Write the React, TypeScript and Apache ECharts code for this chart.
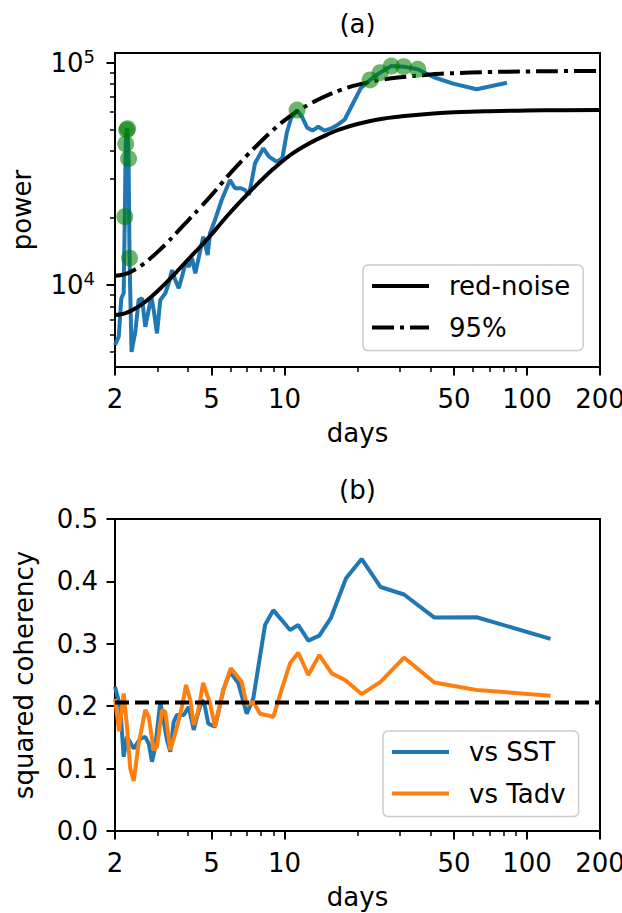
import React, { useEffect, useRef } from 'react';
import * as echarts from 'echarts';

const FONT = 'DejaVu Sans';
const FS = 26;

// ---------- Panel (a): power spectrum ----------
const specDays = [2.0, 2.072, 2.123, 2.172, 2.195, 2.214, 2.234, 2.254, 2.275, 2.296, 2.34, 2.426, 2.503, 2.584, 2.667, 2.823, 2.888, 2.98, 3.075, 3.225, 3.331, 3.437, 3.545, 3.663, 3.777, 3.9, 4.028, 4.155, 4.287, 4.453, 4.624, 4.822, 4.929, 5.169, 5.508, 5.96, 6.25, 6.616, 6.872, 7.139, 7.558, 8.177, 8.631, 9.289, 9.796, 10.21, 10.64, 11.27, 11.81, 12.4, 13.05, 13.78, 14.59, 15.5, 16.53, 17.71, 19.08, 20.67, 22.55, 24.8, 27.56, 31.0, 35.43, 41.33, 49.6, 62.0, 82.67];
const specPower = [5370, 5850, 8710, 9180, 20300, 43100, 49800, 50500, 37000, 13200, 5000, 6170, 8560, 8710, 6490, 8860, 7720, 6060, 8560, 9180, 10180, 11680, 10530, 9660, 10900, 12520, 12090, 13190, 11290, 13650, 16490, 13650, 17080, 19610, 24120, 29680, 27230, 27230, 26750, 25400, 35280, 41200, 37770, 35860, 37150, 48130, 56230, 61200, 57000, 51000, 49500, 51500, 49500, 50500, 52500, 55500, 65000, 77000, 83600, 90200, 96600, 96000, 93400, 86000, 80500, 75900, 81300];

const sigDays = [2.195, 2.214, 2.234, 2.254, 2.275, 2.296, 11.27, 22.55, 24.8, 27.56, 31.0, 35.43];
const sigPower = [20300, 43100, 49800, 50500, 37000, 13200, 61200, 83600, 90200, 96600, 96000, 93400];

const redDays = [2, 2.2, 2.4, 2.6, 2.8, 3, 3.3, 3.6, 4, 4.5, 5, 5.5, 6, 7, 8, 9, 10, 11, 12, 13.5, 15, 17, 20, 25, 30, 40, 50, 70, 100, 140, 200];
const redPower = [7330, 7460, 7790, 8240, 8790, 9400, 10400, 11500, 13000, 14900, 16900, 19100, 21300, 25500, 29500, 33300, 36700, 39600, 42000, 45000, 47500, 50200, 53000, 55800, 57300, 59000, 59800, 60500, 60900, 61100, 61200];
const conf95Power = [10995, 11190, 11685, 12360, 13185, 14100, 15600, 17250, 19500, 22350, 25350, 28650, 31950, 38250, 44250, 49950, 55050, 59400, 63000, 67500, 71250, 75300, 79500, 83700, 85950, 88500, 89700, 90750, 91350, 91650, 91800];

// ---------- Panel (b): squared coherency ----------
const sstDays = [2.0, 2.102, 2.172, 2.241, 2.389, 2.543, 2.667, 2.755, 2.842, 2.932, 3.075, 3.277, 3.381, 3.492, 3.603, 3.842, 4.028, 4.223, 4.357, 4.569, 4.669, 4.85, 5.169, 5.594, 5.96, 6.45, 6.985, 7.436, 8.311, 8.992, 9.74, 10.54, 11.4, 12.54, 13.92, 15.51, 17.94, 20.8, 24.9, 31.1, 41.5, 62, 125];
const sstCoh = [0.231, 0.199, 0.119, 0.151, 0.132, 0.148, 0.151, 0.14, 0.111, 0.135, 0.207, 0.146, 0.127, 0.175, 0.186, 0.186, 0.199, 0.162, 0.183, 0.21, 0.2045, 0.172, 0.167, 0.226, 0.255, 0.237, 0.188, 0.2125, 0.33, 0.354, 0.338, 0.322, 0.33, 0.305, 0.313, 0.341, 0.405, 0.436, 0.391, 0.379, 0.342, 0.3425, 0.308];

const tadvDays = [2.0, 2.08, 2.172, 2.241, 2.312, 2.389, 2.503, 2.584, 2.667, 2.755, 2.888, 2.98, 3.125, 3.225, 3.381, 3.492, 3.603, 3.777, 3.926, 4.087, 4.223, 4.399, 4.62, 4.929, 5.169, 5.594, 6.008, 6.66, 6.985, 7.436, 7.926, 8.992, 9.739, 10.54, 11.4, 12.54, 13.92, 15.66, 17.77, 20.8, 24.9, 31.1, 41.5, 62, 125];
const tadvCoh = [0.212, 0.16, 0.2205, 0.167, 0.1, 0.08, 0.14, 0.167, 0.194, 0.183, 0.1295, 0.135, 0.194, 0.191, 0.1295, 0.148, 0.167, 0.199, 0.234, 0.21, 0.17, 0.191, 0.2375, 0.2045, 0.167, 0.226, 0.261, 0.239, 0.202, 0.207, 0.188, 0.183, 0.227, 0.2687, 0.2857, 0.25, 0.282, 0.2526, 0.242, 0.2194, 0.239, 0.278, 0.238, 0.226, 0.2167];

const cohThreshold = 0.206;

// ---------- Axes ----------
const xRange = [2, 200];
const xMajor = [2, 5, 10, 50, 100, 200];
const xMinor = [3, 4, 6, 7, 8, 9, 20, 30, 40, 60, 70, 80, 90];
const yRangeA = [4277, 110560];
const yMajorA = [10000, 100000];
const yMinorA = [5000, 6000, 7000, 8000, 9000, 20000, 30000, 40000, 50000, 60000, 70000, 80000, 90000];
const yTicksB = [0, 0.1, 0.2, 0.3, 0.4, 0.5];

const zip = (a: number[], b: number[]) => a.map((v, i) => [v, b[i]]);

const BLUE = '#1f77b4';
const ORANGE = '#ff7f0e';
const LW = 4;
const DASHDOT = [22, 6, 4, 6];
const DASHED = [14, 6];

const ICON_SOLID = 'path://M0,0h57v4h-57z';
const ICON_DASHDOT = 'path://M0,0h22v4h-22zM28,0h4v4h-4zM38,0h19v4h-19z';

const txt = { fontSize: FS, fontFamily: FONT, color: '#000' };

function xAxes(gridIndex: number) {
  const base = {
    type: 'log' as const,
    logBase: 10,
    gridIndex,
    min: xRange[0],
    max: xRange[1],
    position: 'bottom' as const,
    axisLine: { show: false },
    splitLine: { show: false },
    minorTick: { show: false },
  };
  return [
    {
      ...base,
      axisTick: { show: true, customValues: xMajor, length: 8.5, lineStyle: { color: '#000', width: 2 } },
      axisLabel: {
        show: true,
        customValues: xMajor,
        formatter: (v: number) => String(Math.round(v)),
        margin: 19,
        ...txt,
      },
      name: 'days',
      nameLocation: 'middle',
      nameGap: 53,
      nameTextStyle: txt,
    },
    {
      ...base,
      axisTick: { show: true, customValues: xMinor, length: 5, lineStyle: { color: '#000', width: 1.5 } },
      axisLabel: { show: false },
    },
  ];
}

function legendBox(left: number, top: number, items: { name: string; icon: string }[]) {
  return {
    orient: 'vertical',
    left,
    top,
    data: items,
    itemWidth: 57,
    itemHeight: 4,
    itemGap: 11.6,
    padding: [6, 13, 8, 9],
    backgroundColor: 'rgba(255,255,255,0.8)',
    borderColor: '#cccccc',
    borderWidth: 1.5,
    borderRadius: 5,
    selectedMode: false,
    symbolKeepAspect: false,
    textStyle: { ...txt, lineHeight: 30, padding: [0, 0, 0, 15] },
  };
}

export default function App() {
  const ref = useRef<HTMLDivElement>(null);
  useEffect(() => {
    if (!ref.current) return;
    const chart = echarts.init(ref.current, undefined, { renderer: 'svg' });
    const option: any = {
      animation: false,
      backgroundColor: '#fff',
      grid: [
        { left: 115, top: 53, width: 485, height: 314, show: true, borderColor: '#000', borderWidth: 2, backgroundColor: 'transparent', outerBoundsMode: 'none' },
        { left: 115, top: 519, width: 485, height: 312, show: true, borderColor: '#000', borderWidth: 2, backgroundColor: 'transparent', outerBoundsMode: 'none' },
      ],
      xAxis: [...xAxes(0), ...xAxes(1)],
      yAxis: [
        {
          type: 'log',
          logBase: 10,
          gridIndex: 0,
          min: yRangeA[0],
          max: yRangeA[1],
          position: 'left',
          axisLine: { show: false },
          splitLine: { show: false },
          axisTick: { show: true, customValues: yMajorA, length: 8.5, lineStyle: { color: '#000', width: 2 } },
          axisLabel: {
            show: true,
            customValues: yMajorA,
            formatter: (v: number) => '{b|10}{s|' + Math.round(Math.log10(v)) + '}',
            margin: 20,
            rich: {
              b: { fontSize: FS, fontFamily: FONT, color: '#000', lineHeight: 30 },
              s: { fontSize: 18, fontFamily: FONT, color: '#000', lineHeight: 18, verticalAlign: 'top' },
            },
          },
          name: 'power',
          nameLocation: 'middle',
          nameGap: 80,
          nameRotate: 90,
          nameTextStyle: txt,
        },
        {
          type: 'log',
          logBase: 10,
          gridIndex: 0,
          min: yRangeA[0],
          max: yRangeA[1],
          position: 'left',
          axisLine: { show: false },
          splitLine: { show: false },
          axisTick: { show: true, customValues: yMinorA, length: 5, lineStyle: { color: '#000', width: 1.5 } },
          axisLabel: { show: false },
        },
        {
          type: 'value',
          gridIndex: 1,
          min: 0,
          max: 0.5,
          interval: 0.1,
          position: 'left',
          axisLine: { show: false },
          splitLine: { show: false },
          axisTick: { show: true, customValues: yTicksB, length: 8.5, lineStyle: { color: '#000', width: 2 } },
          axisLabel: {
            show: true,
            customValues: yTicksB,
            formatter: (v: number) => v.toFixed(1),
            margin: 17,
            ...txt,
          },
          name: 'squared coherency',
          nameLocation: 'middle',
          nameGap: 78,
          nameRotate: 90,
          nameTextStyle: txt,
        },
      ],
      legend: [
        legendBox(363, 265, [
          { name: 'red-noise', icon: ICON_SOLID },
          { name: '95%', icon: ICON_DASHDOT },
        ]),
        legendBox(383, 731, [
          { name: 'vs SST', icon: ICON_SOLID },
          { name: 'vs Tadv', icon: ICON_SOLID },
        ]),
      ],
      graphic: [
        { type: 'text', x: 357.5, y: 24, style: { text: '(a)', fontSize: FS, fontFamily: FONT, fill: '#000', align: 'center', verticalAlign: 'middle' } },
        { type: 'text', x: 357.5, y: 490, style: { text: '(b)', fontSize: FS, fontFamily: FONT, fill: '#000', align: 'center', verticalAlign: 'middle' } },
      ],
      series: [
        {
          name: 'spectrum',
          type: 'line',
          xAxisIndex: 0,
          yAxisIndex: 0,
          data: zip(specDays, specPower),
          symbol: 'none',
          lineStyle: { color: BLUE, width: LW },
          itemStyle: { color: BLUE },
          z: 2,
        },
        {
          name: 'red-noise',
          type: 'line',
          xAxisIndex: 0,
          yAxisIndex: 0,
          data: zip(redDays, redPower),
          symbol: 'none',
          smooth: 0.5,
          lineStyle: { color: '#000', width: LW },
          itemStyle: { color: '#000' },
          z: 3,
        },
        {
          name: '95%',
          type: 'line',
          xAxisIndex: 0,
          yAxisIndex: 0,
          data: zip(redDays, conf95Power),
          symbol: 'none',
          smooth: 0.5,
          lineStyle: { color: '#000', width: LW, type: DASHDOT },
          itemStyle: { color: '#000' },
          z: 3,
        },
        {
          name: 'significant',
          type: 'scatter',
          xAxisIndex: 0,
          yAxisIndex: 0,
          data: zip(sigDays, sigPower),
          symbol: 'circle',
          symbolSize: 17,
          itemStyle: { color: 'rgba(0,128,0,0.72)' },
          z: 4,
        },
        {
          name: 'vs SST',
          type: 'line',
          xAxisIndex: 2,
          yAxisIndex: 2,
          data: zip(sstDays, sstCoh),
          symbol: 'none',
          lineStyle: { color: BLUE, width: LW },
          itemStyle: { color: BLUE },
          z: 2,
        },
        {
          name: 'vs Tadv',
          type: 'line',
          xAxisIndex: 2,
          yAxisIndex: 2,
          data: zip(tadvDays, tadvCoh),
          symbol: 'none',
          lineStyle: { color: ORANGE, width: LW },
          itemStyle: { color: ORANGE },
          z: 2,
        },
        {
          name: 'threshold',
          type: 'line',
          xAxisIndex: 2,
          yAxisIndex: 2,
          data: [[xRange[0], cohThreshold], [xRange[1], cohThreshold]],
          symbol: 'none',
          lineStyle: { color: '#000', width: LW, type: DASHED },
          itemStyle: { color: '#000' },
          z: 3,
        },
      ],
    };
    chart.setOption(option);
    return () => chart.dispose();
  }, []);
  return <div ref={ref} style={{ position: 'absolute', left: 0, top: 0, width: 622, height: 913 }} />;
}
